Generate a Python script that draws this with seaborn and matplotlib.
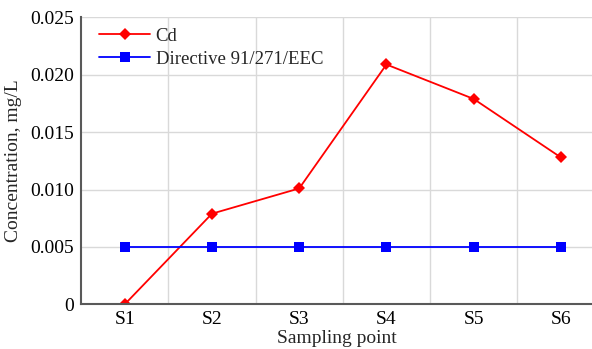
import numpy as np
import pandas as pd
import seaborn as sns
from matplotlib import pyplot as plt
from matplotlib.ticker import FixedLocator

points = ["S1", "S2", "S3", "S4", "S5", "S6"]
cd = [0.0, 0.0079, 0.0101, 0.0209, 0.0179, 0.0128]
directive = [0.005, 0.005, 0.005, 0.005, 0.005, 0.005]

sns.set_style("white")
plt.rcParams["font.family"] = ["Liberation Serif", "DejaVu Serif"]

df = pd.DataFrame({
    "point": points * 2,
    "value": cd + directive,
    "series": ["Cd"] * 6 + ["Directive 91/271/EEC"] * 6,
})

fig = plt.figure(figsize=(5.92, 3.49), dpi=100)
ax = fig.add_axes([0.137, 0.128, 0.865, 0.822])

sns.lineplot(data=df, x="point", y="value", hue="series", style="series",
             palette=["#ff0000", "#0000ff"], markers=["D", "s"], dashes=False,
             markersize=6.5, linewidth=1.3, markeredgewidth=0, sort=False, ax=ax)

ax.set_xlim(-0.5, 5.37)
ax.set_ylim(0, 0.025)
ax.set_yticks(np.arange(0, 0.0251, 0.005))
ax.set_yticklabels(["0", "0.005", "0.010", "0.015", "0.020", "0.025"])
ax.xaxis.set_minor_locator(FixedLocator(np.arange(0.5, 5.5, 1.0)))
ax.grid(axis="y", which="major", color="#d9d9d9", linewidth=1)
ax.grid(axis="x", which="minor", color="#d9d9d9", linewidth=1)
ax.grid(axis="x", which="major", visible=False)
ax.tick_params(axis="both", which="both", length=0, labelsize=14, colors="black", pad=5)

for side in ["top", "right"]:
    ax.spines[side].set_visible(False)
for side in ["left", "bottom"]:
    ax.spines[side].set_color("#595959")
    ax.spines[side].set_linewidth(1.5)

ax.set_xlabel("Sampling point", fontsize=14, labelpad=1.5)
ax.set_ylabel("Concentration, mg/L", fontsize=14, labelpad=6)

leg = ax.legend(loc="upper left", frameon=False, fontsize=13.5, handlelength=2.7,
                handletextpad=0.3, borderaxespad=0.3, labelspacing=0.3,
                bbox_to_anchor=(0.01, 1.01))
leg.set_title(None)

fig.savefig("out.png", dpi=100)
